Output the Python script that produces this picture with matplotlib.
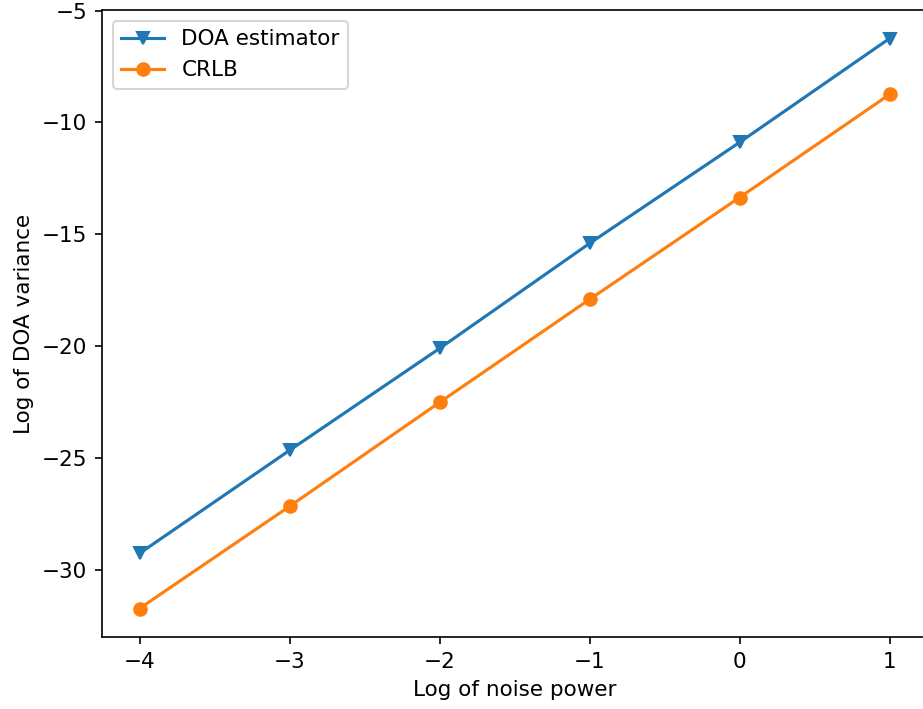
import matplotlib
matplotlib.use('Agg')
import matplotlib.pyplot as plt

# log of noise power
log_noise = [-4, -3, -2, -1, 0, 1]
# log of DOA variance
doa_est = [-29.24, -24.64, -20.09, -15.4, -10.89, -6.25]
crlb = [-31.7, -27.14, -22.5, -17.9, -13.35, -8.75]

plt.rcParams['font.size'] = 10.3

fig = plt.figure(figsize=(923 / 150, 709 / 150), dpi=150)
ax = fig.add_axes([102 / 923, 72 / 709, 825 / 923, 627 / 709])

ax.plot(log_noise, doa_est, marker='v', label='DOA estimator')
ax.plot(log_noise, crlb, marker='o', label='CRLB')
ax.set_xlabel('Log of noise power')
ax.set_ylabel('Log of DOA variance')
ax.legend(loc='upper left')

fig.savefig('out.png', dpi=150)
